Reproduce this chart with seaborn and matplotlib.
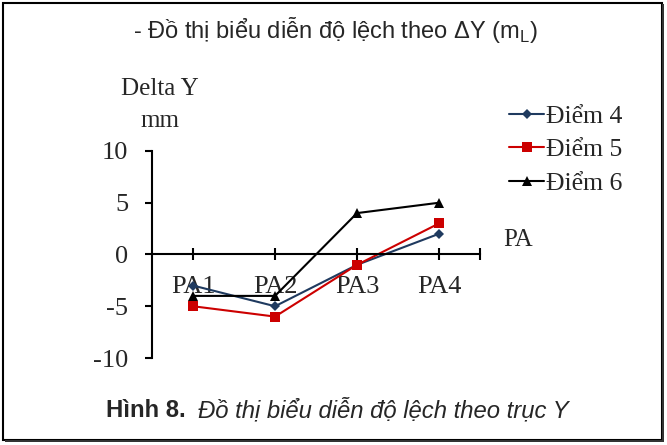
import numpy as np
import pandas as pd
import seaborn as sns
import matplotlib
matplotlib.use("Agg")
import matplotlib.pyplot as plt
from matplotlib.patches import Rectangle
from matplotlib.ticker import FixedLocator

categories = ["PA1", "PA2", "PA3", "PA4"]
diem4 = [-3, -5, -1, 2]
diem5 = [-5, -6, -1, 3]
diem6 = [-4, -4, 4, 5]
series_names = ["Điểm 4", "Điểm 5", "Điểm 6"]
y_ticks = [-10, -5, 0, 5, 10]

sns.set_theme(style="white")
plt.rcParams["font.family"] = ["Liberation Serif", "DejaVu Serif"]
plt.rcParams["axes.unicode_minus"] = False

rows = []
for name, vals in zip(series_names, [diem4, diem5, diem6]):
    for i, (c, v) in enumerate(zip(categories, vals)):
        rows.append({"pos": i, "cat": c, "val": v, "series": name})
df = pd.DataFrame(rows)

fig = plt.figure(figsize=(6.67, 4.45), dpi=100)
ax = fig.add_axes([0.228, 0.1955, 0.4916, 0.4652])

palette = {"Điểm 4": "#1F3A5F", "Điểm 5": "#CC0000", "Điểm 6": "#000000"}
markers = {"Điểm 4": "D", "Điểm 5": "s", "Điểm 6": "^"}
sizes_m = {"Điểm 4": 5.5, "Điểm 5": 7, "Điểm 6": 7}

for name in series_names:
    sub = df[df["series"] == name]
    sns.lineplot(data=sub, x="pos", y="val", ax=ax, color=palette[name],
                 marker=markers[name], markersize=sizes_m[name],
                 markeredgewidth=0, linewidth=1.5, label=name)

FS = 18
ax.set_xlim(-0.5, 3.5)
ax.set_ylim(-10, 10)
ax.set_xlabel("")
ax.set_ylabel("")
ax.spines["top"].set_visible(False)
ax.spines["right"].set_visible(False)
ax.spines["bottom"].set_position(("data", 0))
for s in ["left", "bottom"]:
    ax.spines[s].set_color("black")
    ax.spines[s].set_linewidth(1.5)

ax.set_xticks(range(len(categories)))
ax.set_xticklabels(categories)
ax.xaxis.set_minor_locator(FixedLocator([3.5]))
ax.tick_params(axis="x", which="both", direction="inout", length=9, width=1.5,
               color="black", bottom=True, labelsize=19, pad=11)
ax.set_yticks(y_ticks)
ax.tick_params(axis="y", direction="out", length=5, width=1.5, color="black",
               left=True, labelsize=19, pad=12)
ax.grid(False)

leg = ax.legend(loc="upper left", bbox_to_anchor=(0.748, 0.788),
                bbox_transform=fig.transFigure, frameon=False,
                fontsize=18.5, handlelength=1.35, handletextpad=0.1,
                labelspacing=0.42, borderaxespad=0)

fig.text(0.240, 0.800, "Delta Y", fontsize=FS, ha="center", va="center")
fig.text(0.240, 0.727, "mm", fontsize=FS, ha="center", va="center")
fig.text(0.777, 0.461, "PA", fontsize=FS, ha="center", va="center")

sans = ["Liberation Sans", "DejaVu Sans"]
fig.text(0.503, 0.932, "- Đồ thị biểu diễn độ lệch theo ΔY (m$_\\mathregular{L}$)",
         fontsize=17, ha="center", va="center", family=sans)

cap_y = 0.078
cap_fs = 17.2
t1 = fig.text(0, cap_y, "Hình 8.", fontsize=cap_fs, va="center",
              weight="bold", family=sans)
t2 = fig.text(0, cap_y, "Đồ thị biểu diễn độ lệch theo trục Y", fontsize=cap_fs,
              va="center", style="italic", family=sans)
fig.canvas.draw()
r = fig.canvas.get_renderer()
w1 = t1.get_window_extent(r).width
w2 = t2.get_window_extent(r).width
gap = 12
total = w1 + gap + w2
x0 = 337.5 - total / 2
W = fig.bbox.width
t1.set_x(x0 / W)
t2.set_x((x0 + w1 + gap) / W)

fig.patches.append(Rectangle((0.005, 0.012), 0.988, 0.982,
                             transform=fig.transFigure, fill=False,
                             edgecolor="black", linewidth=1.5))
fig.patches.append(Rectangle((0.993, 0.006), 0.002, 0.985,
                             transform=fig.transFigure, fill=True,
                             facecolor="#333333", edgecolor="none"))
fig.patches.append(Rectangle((0.008, 0.006), 0.987, 0.006,
                             transform=fig.transFigure, fill=True,
                             facecolor="#333333", edgecolor="none"))

fig.savefig("out.png", dpi=100)
